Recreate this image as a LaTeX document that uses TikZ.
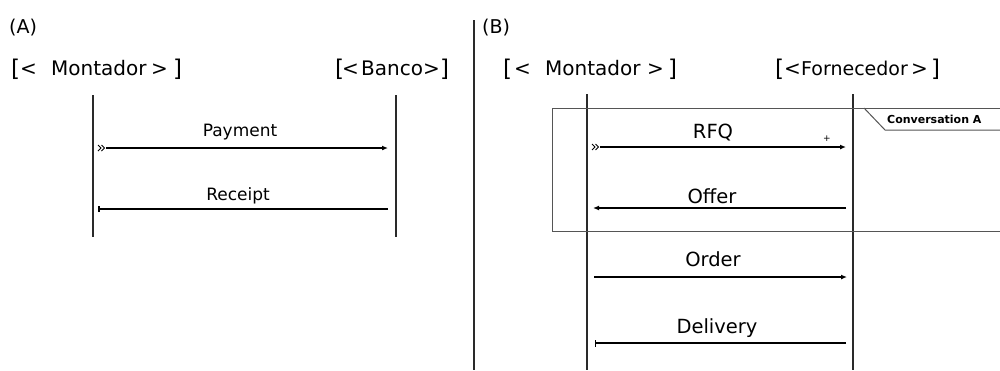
\documentclass[tikz,border=0pt]{standalone}
\usepackage{fontspec}
\setmainfont{DejaVu Sans}
\usetikzlibrary{arrows.meta}
\definecolor{lifeC}{HTML}{2A2A2A}
\definecolor{boxC}{HTML}{555555}
\tikzset{
  hdr/.style={font=\fontsize{20}{22}\selectfont, inner sep=0pt, anchor=base west},
  brk/.style={font=\fontsize{23}{25}\selectfont, inner sep=0pt, anchor=base west},
  panel/.style={font=\fontsize{19}{21}\selectfont, inner sep=0pt, anchor=base west},
  lifeline/.style={draw=lifeC, line width=1.5pt},
  msgA/.style={font=\fontsize{17}{19}\selectfont, inner sep=0pt, anchor=base},
  msgB/.style={font=\fontsize{19.5}{21}\selectfont, inner sep=0pt, anchor=base},
  msg/.style={draw=black, line width=1.7pt},
  convbox/.style={draw=boxC, line width=1pt},
  tipend/.style={-{Latex[length=6pt,width=5pt]}},
  chevline/.style={draw=black, line width=1pt},
  dchev/.pic={
    \draw[chevline] (0,-3) -- (3,0) -- (0,3);
    \draw[chevline] (3.5,-3) -- (6.5,0) -- (3.5,3);
  }
}
\begin{document}
\begin{tikzpicture}[x=1pt,y=-1pt]
\useasboundingbox (0,0) rectangle (1000,370);

% Panel labels
\node[panel] (labA) at (9,33) {(A)};
\node[panel] (labB) at (482,33) {(B)};
\coordinate (sepT) at (474,20);
\coordinate (sepB) at (474,370);
\draw[draw=lifeC, line width=1.2pt] (sepT) -- (sepB);

% Headers A
\node[brk] (hA1a) at (11,76) {[};
\node[hdr] (hA1b) at (20,75) {<};
\node[hdr] (hA1c) at (51,75) {Montador};
\node[hdr] (hA1d) at (151,75) {>};
\node[brk] (hA1e) at (173,76) {]};
\node[brk] (hA2a) at (335,76) {[};
\node[hdr] (hA2b) at (342,75) {<};
\node[hdr] (hA2c) at (361,75) {Banco};
\node[hdr] (hA2d) at (423,75) {>};
\node[brk] (hA2e) at (440,76) {]};
% Headers B
\node[brk] (hB1a) at (503,76) {[};
\node[hdr] (hB1b) at (514,75) {<};
\node[hdr] (hB1c) at (545,75) {Montador};
\node[hdr] (hB1d) at (647,75) {>};
\node[brk] (hB1e) at (668,76) {]};
\node[brk] (hB2a) at (775,76) {[};
\node[hdr] (hB2b) at (784,75) {<};
\node[hdr, font=\fontsize{19}{21}\selectfont] (hB2c) at (801,75) {Fornecedor};
\node[hdr] (hB2d) at (911,75) {>};
\node[brk] (hB2e) at (931,76) {]};

% Lifelines A
\coordinate (lA1t) at (93,95);  \coordinate (lA1b) at (93,237);
\coordinate (lA2t) at (396,95); \coordinate (lA2b) at (396,237);
\draw[lifeline] (lA1t) -- (lA1b);
\draw[lifeline] (lA2t) -- (lA2b);

% Lifelines B
\coordinate (lB1t) at (587,94);  \coordinate (lB1b) at (587,370);
\coordinate (lB2t) at (853,94);  \coordinate (lB2b) at (853,370);
\draw[lifeline] (lB1t) -- (lB1b);
\draw[lifeline] (lB2t) -- (lB2b);

% Conversation box
\coordinate (cbTR) at (1001,108);
\coordinate (cbTL) at (552,108);
\coordinate (cbBL) at (552,231);
\coordinate (cbBR) at (1001,231);
\draw[convbox] (cbTR) -- (cbTL) -- (cbBL) -- (cbBR);
\coordinate (tab1) at (864,108);
\coordinate (tab2) at (885,130);
\coordinate (tab3) at (1001,130);
\draw[convbox] (tab1) -- (tab2) -- (tab3);
\node[font=\fontsize{11}{13}\selectfont\bfseries, inner sep=0pt, anchor=west] (conv) at (887,119) {Conversation A};

% Messages A
\node[msgA] (mPay) at (240,136) {Payment};
\coordinate (pay0) at (98,148);
\coordinate (pay1) at (106,148); \coordinate (pay2) at (388,148);
\pic at (pay0) {dchev};
\draw[msg, tipend] (pay1) -- (pay2);
\node[msgA] (mRec) at (238,200) {Receipt};
\coordinate (rec1) at (388,209); \coordinate (rec2) at (98,209);
\draw[msg, -{Bar[width=6pt,line width=1pt] Bar[width=6pt,line width=1pt]}] (rec1) -- (rec2);

% Messages B
\node[msgB] (mRFQ) at (713,138) {RFQ};
\coordinate (rfq0) at (592,147);
\coordinate (rfq1) at (600,147); \coordinate (rfq2) at (846,147);
\pic at (rfq0) {dchev};
\draw[msg, tipend] (rfq1) -- (rfq2);
\node[font=\fontsize{9}{10}\selectfont, inner sep=0pt] (plus) at (827,139) {+};
\node[msgB] (mOff) at (712,203) {Offer};
\coordinate (off1) at (846,208); \coordinate (off2) at (593,208);
\draw[msg, tipend] (off1) -- (off2);
\node[msgB] (mOrd) at (713,266) {Order};
\coordinate (ord1) at (594,277); \coordinate (ord2) at (847,277);
\draw[msg, tipend] (ord1) -- (ord2);
\node[msgB] (mDel) at (717,333) {Delivery};
\coordinate (del1) at (846,343); \coordinate (del2) at (595,343);
\draw[msg, -{Bar[width=7pt,line width=1.2pt]}] (del1) -- (del2);
\end{tikzpicture}
\end{document}
